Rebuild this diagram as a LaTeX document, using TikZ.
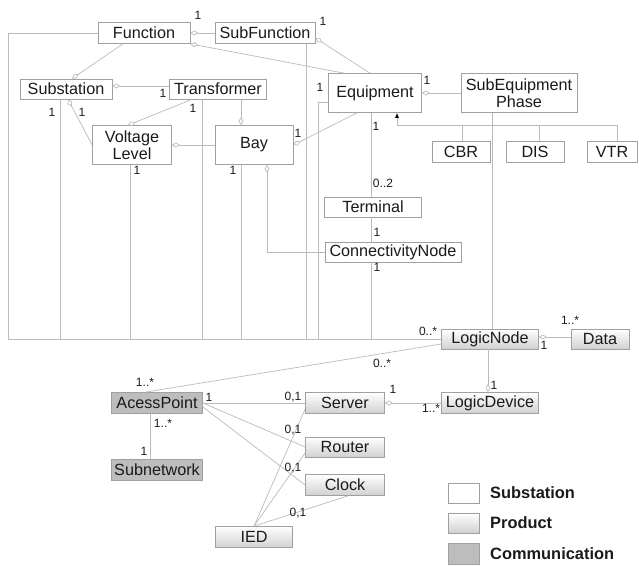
\documentclass[tikz,border=0pt]{standalone}
\usepackage{fontspec}
\setmainfont{Liberation Sans}
\usetikzlibrary{arrows.meta}
\definecolor{linegray}{HTML}{BBBBBB}
\definecolor{boxgray}{HTML}{A0A0A0}
\definecolor{commgray}{HTML}{BDBDBD}
\definecolor{txt}{HTML}{1A1A1A}
\tikzset{
  box/.style={draw=boxgray, line width=0.7pt, inner sep=0pt, text=txt, font=\fontsize{16.2}{17.5}\selectfont, align=center},
  subbox/.style={box, fill=white},
  prodbox/.style={box, top color=white, bottom color=black!18},
  commbox/.style={box, fill=commgray},
  conn/.style={draw=linegray, line width=0.7pt},
  agg/.style={conn, {Diamond[open,length=8pt,width=5pt]}-},
  mult/.style={text=txt, font=\fontsize{12}{13}\selectfont, inner sep=0pt},
  legtxt/.style={text=txt, font=\fontsize{16.4}{17.5}\selectfont\bfseries, inner sep=0pt, anchor=west}
}
\begin{document}
\begin{tikzpicture}[x=1pt,y=-1pt]
\useasboundingbox (0,0) rectangle (639,565);
% ---------- nodes ----------
\node[subbox, minimum width=92, minimum height=21] (func) at (144,33) {Function};
\node[subbox, minimum width=100, minimum height=21] (subf) at (265,33) {SubFunction};
\node[subbox, minimum width=92, minimum height=20] (subst) at (66,89) {Substation};
\node[subbox, minimum width=97, minimum height=20] (trans) at (218,89) {Transformer};
\node[subbox, minimum width=79, minimum height=39] (vl) at (132,145) {Voltage\\Level};
\node[subbox, minimum width=78, minimum height=39] (bay) at (254,145) {Bay};
\node[subbox, minimum width=93, minimum height=39] (equip) at (375,93) {Equipment};
\node[subbox, minimum width=116, minimum height=39] (subeq) at (519,93) {SubEquipment\\Phase};
\node[subbox, minimum width=58, minimum height=21] (cbr) at (461,152) {CBR};
\node[subbox, minimum width=58, minimum height=21] (dis) at (535,152) {DIS};
\node[subbox, minimum width=50, minimum height=21] (vtr) at (612,152) {VTR};
\node[subbox, minimum width=97, minimum height=20] (term) at (373,207) {Terminal};
\node[subbox, minimum width=136, minimum height=20] (cn) at (393,252) {ConnectivityNode};
\node[prodbox, minimum width=97, minimum height=20] (ln) at (490,339) {LogicNode};
\node[prodbox, minimum width=58, minimum height=20] (data) at (600,339) {Data};
\node[prodbox, minimum width=97, minimum height=21] (ld) at (490,403) {LogicDevice};
\node[commbox, minimum width=91, minimum height=21] (ap) at (157,403) {AcessPoint};
\node[commbox, minimum width=91, minimum height=21] (subn) at (157,470) {Subnetwork};
\node[prodbox, minimum width=79, minimum height=21] (server) at (345,403) {Server};
\node[prodbox, minimum width=79, minimum height=20] (router) at (345,447) {Router};
\node[prodbox, minimum width=79, minimum height=21] (clock) at (345,485) {Clock};
\node[prodbox, minimum width=77, minimum height=21] (ied) at (254,537) {IED};
% legend
\node[subbox, minimum width=31, minimum height=20] (lg1) at (464,493) {};
\node[prodbox, minimum width=31, minimum height=20] (lg2) at (464,523) {};
\node[commbox, minimum width=31, minimum height=21] (lg3) at (464,554) {};
\node[legtxt] (lt1) at (490,493) {Substation};
\node[legtxt] (lt2) at (490,523) {Product};
\node[legtxt] (lt3) at (490,554) {Communication};
% ---------- bus lines to LogicNode ----------
\coordinate (busL) at (8,0 |- ln.west);
\draw[conn] (func.west) -| (busL) -- (ln.west);
\draw[conn] (60,0 |- subst.south) -- (60,0 |- ln.west);
\draw[conn] (130,0 |- vl.south) -- (130,0 |- ln.west);
\draw[conn] (202,0 |- trans.south) -- (202,0 |- ln.west);
\draw[conn] (241,0 |- bay.south) -- (241,0 |- ln.west);
\draw[conn] (306,0 |- subf.south) -- (306,0 |- ln.west);
\draw[conn] (equip.west |- 0,102) -- (318,102) -- (318,0 |- ln.west);
\draw[conn] (371,0 |- cn.south) -- (371,0 |- ln.west);
\draw[conn] (492,0 |- subeq.south) -- (492,0 |- ln.north);
% ---------- other connectors ----------
\draw[agg] (func.east) -- (subf.west);
\draw[agg] (func.south east) -- (344,0 |- equip.north);
\draw[agg] (subf.east |- 0,38) -- (370,0 |- equip.north);
\draw[agg] (72,0 |- subst.north) -- (123,0 |- func.south);
\draw[agg] (subst.east |- 0,86) -- (trans.west |- 0,86);
\draw[agg] (68,0 |- subst.south) -- (vl.west |- 0,145);
\draw[agg] (128,0 |- vl.north) -- (192,0 |- trans.south);
\draw[agg] (241,0 |- bay.north) -- (241,0 |- trans.south);
\draw[agg] (vl.east) -- (bay.west);
\draw[agg] (bay.east) -- (357,0 |- equip.south);
\draw[agg] (equip.east) -- (subeq.west);
\draw[conn] (371,0 |- equip.south) -- (371,0 |- term.north);
\coordinate (gen) at (397,125);
\draw[conn, -{Latex[length=5pt,width=4pt,black]}] (617,0 |- vtr.north) |- (gen) -- (397,0 |- equip.south);
\draw[conn] (462,0 |- cbr.north) -- (462,0 |- gen);
\draw[conn] (539,0 |- dis.north) -- (539,0 |- gen);
\draw[conn] (371,0 |- term.south) -- (371,0 |- cn.north);
\draw[agg] (267,0 |- bay.south) |- (cn.west);
\draw[agg] (ln.east |- 0,337) -- (data.west |- 0,337);
\draw[agg] (488,0 |- ld.north) -- (488,0 |- ln.south);
\draw[conn] (ln.west |- 0,344) -- (145,0 |- ap.north);
\draw[agg] (server.east) -- (ld.west);
\draw[conn] (ap.east) -- (server.west);
\draw[conn] (ap.east) -- (router.west);
\draw[conn] (ap.east |- 0,407) -- (clock.west);
\draw[conn] (150,0 |- ap.south) -- (150,0 |- subn.north);
\draw[conn] (ied.north) -- (server.west |- 0,409);
\draw[conn] (ied.north) -- (router.west |- 0,453);
\draw[conn] (ied.north) -- (348,0 |- clock.south);
% ---------- multiplicities ----------
\node[mult] (m1) at (198,15) {1};
\node[mult] (m2) at (323,21) {1};
\node[mult] (m3) at (320,87) {1};
\node[mult] (m4) at (52,112) {1};
\node[mult] (m5) at (82,112) {1};
\node[mult] (m6) at (163,93) {1};
\node[mult] (m7) at (193,108) {1};
\node[mult] (m8) at (298,133) {1};
\node[mult] (m9) at (137,170) {1};
\node[mult] (m10) at (233,170) {1};
\node[mult] (m11) at (427,80) {1};
\node[mult] (m12) at (376,126) {1};
\node[mult] (m13) at (383,183) {0..2};
\node[mult] (m14) at (377,232) {1};
\node[mult] (m15) at (377,267) {1};
\node[mult] (m16) at (428,331) {0..*};
\node[mult] (m17) at (570,320) {1..*};
\node[mult] (m18) at (544,345) {1};
\node[mult] (m19) at (382,363) {0..*};
\node[mult] (m20) at (494,385) {1};
\node[mult] (m21) at (393,389) {1};
\node[mult] (m22) at (431,408) {1..*};
\node[mult] (m23) at (145,382) {1..*};
\node[mult] (m24) at (209,397) {1};
\node[mult] (m25) at (293,397) {0,1};
\node[mult] (m26) at (293,430) {0,1};
\node[mult] (m27) at (293,468) {0,1};
\node[mult] (m28) at (298,513) {0,1};
\node[mult] (m29) at (163,423) {1..*};
\node[mult] (m30) at (144,451) {1};
\end{tikzpicture}
\end{document}
